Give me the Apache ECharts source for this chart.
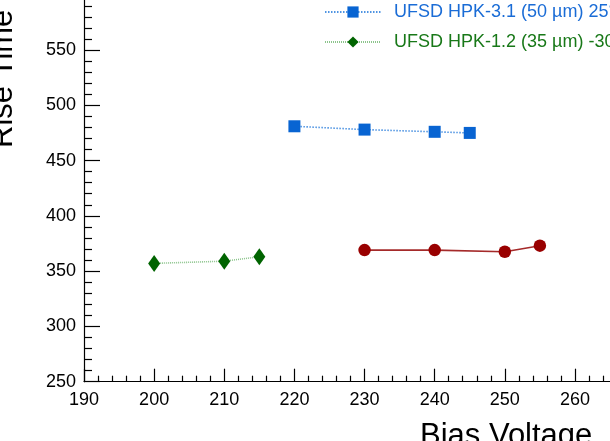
<!DOCTYPE html>
<html>
<head>
<meta charset="utf-8">
<script src="https://cdn.jsdelivr.net/npm/echarts@6/dist/echarts.min.js"></script>
<style>
html,body{margin:0;padding:0;background:#fff;}
#c{width:610px;height:441px;}
</style>
</head>
<body>
<div id="c"></div>
<script>
// Data
const blueName = 'UFSD HPK-3.1 (50 µm) 25°C';
const blueX = [220, 230, 240, 245];
const blueY = [481, 478, 476, 475];

const redName = 'UFSD HPK-3.2 (50 µm)';
const redX = [230, 240, 250, 255];
const redY = [369, 369, 367.5, 373];

const greenName = 'UFSD HPK-1.2 (35 µm) -30°C';
const greenX = [200, 210, 215];
const greenY = [357, 359, 363];

const xMin = 190, xMax = 270, xStep = 10;
const yMin = 250, yMax = 600, yStep = 50;

const xTitle = 'Bias Voltage';
const yTitle = 'Rise Time';

function pairs(xs, ys) { return xs.map((x, i) => [x, ys[i]]); }

const FONT = '"Liberation Sans", Arial, Helvetica, sans-serif';
const diamond = 'path://M6,0L12,8.5L6,17L0,8.5Z';

const chart = echarts.init(document.getElementById('c'), null, {renderer: 'canvas'});
chart.setOption({
  animation: false,
  backgroundColor: '#ffffff',
  textStyle: {fontFamily: FONT},
  grid: {left: 84, right: -35.1, top: -5.3, bottom: 59.3, containLabel: false, outerBoundsMode: 'none'},
  xAxis: {
    type: 'value', min: xMin, max: xMax, interval: xStep,
    axisLine: {show: true, onZero: false, lineStyle: {color: '#000', width: 1.2}},
    axisTick: {show: true, inside: true, length: 13, lineStyle: {color: '#000', width: 1.2}},
    minorTick: {show: true, splitNumber: 5, length: 6, lineStyle: {color: '#000', width: 1.2}},
    splitLine: {show: false},
    axisLabel: {color: '#000', fontSize: 18, fontFamily: FONT, margin: 9},
  },
  yAxis: {
    type: 'value', min: yMin, max: yMax, interval: yStep,
    axisLine: {show: true, onZero: false, lineStyle: {color: '#000', width: 1.2}},
    axisTick: {show: true, inside: true, length: 16, lineStyle: {color: '#000', width: 1.2}},
    minorTick: {show: true, splitNumber: 5, length: 8, lineStyle: {color: '#000', width: 1.2}},
    splitLine: {show: false},
    axisLabel: {color: '#000', fontSize: 18, fontFamily: FONT, margin: 8, showMaxLabel: true, hideOverlap: false},
  },
  legend: {
    orient: 'vertical', left: 324, top: 3, padding: 0,
    itemWidth: 56, itemHeight: 14, itemGap: 12,
    textStyle: {fontSize: 18, fontFamily: FONT, padding: [0, 0, 0, 8]},
    data: [
      {name: blueName, textStyle: {color: '#1a6cd6'}},
      {name: greenName, textStyle: {color: '#187818'}}
    ]
  },
  graphic: [
    {type: 'text', x: 420, y: 436,
     style: {text: xTitle, font: '31px ' + FONT, fill: '#000', textAlign: 'left', textVerticalAlign: 'middle'}},
    {type: 'text', x: 3, y: 148, rotation: Math.PI / 2,
     style: {text: yTitle, font: '31px ' + FONT, fill: '#000', textAlign: 'left', textVerticalAlign: 'middle'}}
  ],
  series: [
    {
      name: redName, type: 'line', data: pairs(redX, redY),
      symbol: 'circle', symbolSize: 12.5,
      itemStyle: {color: '#990000'},
      lineStyle: {color: '#a52a2a', width: 1.6, type: 'solid'},
      z: 3
    },
    {
      name: blueName, type: 'line', data: pairs(blueX, blueY),
      symbol: 'rect', symbolSize: 12,
      itemStyle: {color: '#0864d2'},
      lineStyle: {color: '#4f94e2', width: 1.6, type: [1.5, 1.5]},
      z: 3
    },
    {
      name: greenName, type: 'line', data: pairs(greenX, greenY),
      symbol: diamond, symbolSize: [12, 17],
      itemStyle: {color: '#006400'},
      lineStyle: {color: '#8cc48c', width: 1.6, type: [1, 1]},
      z: 3
    }
  ]
});
</script>
</body>
</html>
